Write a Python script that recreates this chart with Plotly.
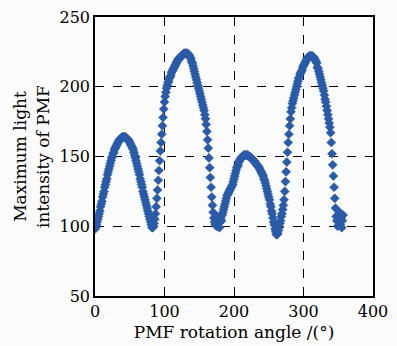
import plotly.graph_objects as go

angle_start = 0
intensity = [
    98, 99, 101, 103, 105, 107, 109, 111, 114, 116,
    118, 121, 123, 125, 128, 130, 132, 134, 137, 139,
    141, 143, 145, 147, 149, 150, 152, 153, 155, 156,
    157, 158, 159, 160, 161, 162, 162, 163, 163, 164,
    164, 164, 164, 164, 164, 163, 163, 162, 162, 161,
    160, 159, 158, 157, 156, 155, 153, 151, 149, 147,
    145, 143, 141, 139, 137, 134, 132, 130, 128, 125,
    123, 121, 119, 117, 115, 113, 111, 109, 107, 105,
    103, 101, 99, 99, 100, 102, 105, 109, 114, 120,
    126, 133, 140, 147, 154, 160, 166, 172, 178, 184,
    189, 193, 196, 199, 201, 203, 204, 206, 207, 208,
    210, 211, 212, 213, 214, 215, 216, 217, 218, 219,
    220, 220, 221, 221, 222, 222, 223, 223, 224, 224,
    224, 224, 224, 224, 223, 223, 222, 221, 220, 218,
    217, 215, 213, 211, 209, 207, 205, 203, 201, 199,
    197, 195, 193, 191, 189, 187, 185, 183, 180, 177,
    173, 168, 162, 156, 149, 142, 135, 128, 121, 115,
    110, 106, 103, 101, 104, 100, 107, 102, 105, 99,
    103, 106, 104, 108, 110, 112, 114, 116, 118, 120,
    122, 123, 124, 125, 126, 127, 128, 129, 130, 132,
    134, 136, 138, 140, 142, 143, 144, 146, 147, 148,
    149, 149, 150, 150, 151, 151, 151, 151, 151, 151,
    151, 150, 150, 150, 149, 149, 148, 148, 147, 147,
    146, 145, 145, 144, 143, 143, 142, 141, 140, 139,
    138, 137, 136, 134, 133, 131, 129, 127, 125, 123,
    121, 119, 116, 114, 111, 109, 106, 103, 101, 98,
    96, 94, 94, 95, 97, 99, 102, 104, 107, 109,
    112, 115, 119, 125, 132, 139, 146, 153, 160, 166,
    172, 177, 182, 185, 188, 190, 192, 194, 196, 198,
    200, 202, 204, 206, 207, 209, 210, 211, 212, 214,
    215, 216, 217, 218, 219, 220, 221, 221, 222, 222,
    222, 222, 222, 222, 221, 221, 220, 219, 218, 217,
    214, 213, 211, 209, 207, 205, 203, 201, 199, 197,
    194, 191, 189, 186, 183, 180, 177, 174, 171, 167,
    160, 152, 144, 136, 128, 120, 113, 107, 104, 100,
    108, 103, 110, 101, 106, 99, 104, 108,
]
angles = [angle_start + i for i in range(len(intensity))]

x_ticks = [0, 100, 200, 300, 400]
y_ticks = [50, 100, 150, 200, 250]

font_family = "DejaVu Serif, Liberation Serif, serif"
marker_color = "#2a5ba8"

fig = go.Figure()
fig.add_trace(go.Scatter(
    x=angles, y=intensity, mode="markers",
    marker=dict(symbol="diamond", size=7, color=marker_color,
                line=dict(width=0.5, color=marker_color)),
    showlegend=False,
))

axis_common = dict(
    showline=True, linecolor="black", linewidth=1.5, mirror=True,
    showgrid=True, gridcolor="black", gridwidth=1, griddash="dash",
    zeroline=False, ticks="", automargin=False,
    tickfont=dict(size=16, color="black", family=font_family),
)

fig.update_xaxes(range=[0, 400], tickvals=x_ticks,
                 title=dict(text="PMF rotation angle /(°)", standoff=6,
                            font=dict(size=17, color="black", family=font_family)),
                 **axis_common)
fig.update_yaxes(range=[50, 250], tickvals=y_ticks,
                 title=dict(text="Maximum light<br>intensity of PMF", standoff=6,
                            font=dict(size=17, color="black", family=font_family)),
                 **axis_common)

fig.update_layout(
    width=397, height=346,
    margin=dict(l=95, r=24, t=17, b=50),
    paper_bgcolor="#fbfbfb", plot_bgcolor="#fbfbfb",
    font=dict(family=font_family, color="black"),
)

fig.write_html("out.html")
